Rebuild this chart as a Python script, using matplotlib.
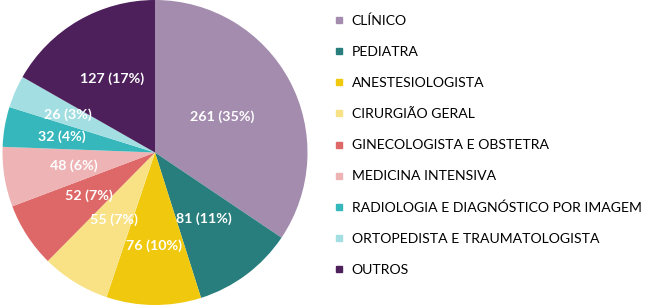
import numpy as np
import matplotlib
matplotlib.use("Agg")
import matplotlib.pyplot as plt
from matplotlib.lines import Line2D

plt.rcParams['font.family'] = ['Lato', 'DejaVu Sans']

# ---------------- data ----------------
categorias = ["CLÍNICO", "PEDIATRA", "ANESTESIOLOGISTA", "CIRURGIÃO GERAL",
              "GINECOLOGISTA E OBSTETRA", "MEDICINA INTENSIVA",
              "RADIOLOGIA E DIAGNÓSTICO POR IMAGEM",
              "ORTOPEDISTA E TRAUMATOLOGISTA", "OUTROS"]
valores = [261, 81, 76, 55, 52, 48, 32, 26, 127]
percentuais = [35, 11, 10, 7, 7, 6, 4, 3, 17]
cores = ["#A48CAE", "#277E7D", "#F0C90E", "#F8E285", "#DE6867",
         "#EEB3B4", "#35B7BB", "#A3DFE2", "#4D1F5B"]
# radial position of each label (fraction of radius)
dist_rotulo = [0.50, 0.54, 0.61, 0.52, 0.52, 0.54, 0.62, 0.62, 0.56]

fig = plt.figure(figsize=(6.5, 3.05), dpi=100)
ax = fig.add_axes([2 / 650, 0, 306 / 650, 1])

wedges, _ = ax.pie(valores, colors=cores, startangle=90, counterclock=False,
                   radius=1.0, wedgeprops=dict(linewidth=0))
ax.set_xlim(-1.0, 1.0)
ax.set_ylim(-1.0, 1.0)
ax.set_aspect("equal")

# value labels
for w, v, p, d in zip(wedges, valores, percentuais, dist_rotulo):
    ang = np.deg2rad((w.theta1 + w.theta2) / 2)
    ax.text(d * np.cos(ang), d * np.sin(ang), f"{v} ({p}%)",
            ha="center", va="center", color="white", fontsize=10.3,
            fontweight="bold")

# legend
handles = [Line2D([0], [0], marker="s", linestyle="none", markersize=5,
                  markerfacecolor=c, markeredgecolor=c) for c in cores]
fig.legend(handles, categorias, loc="upper left",
           bbox_to_anchor=(328 / 650, 1 - 9 / 305), frameon=False,
           fontsize=10.1, handlelength=0.8, handletextpad=0.5,
           labelspacing=1.36, borderaxespad=0)

fig.savefig("out.png", dpi=100)
